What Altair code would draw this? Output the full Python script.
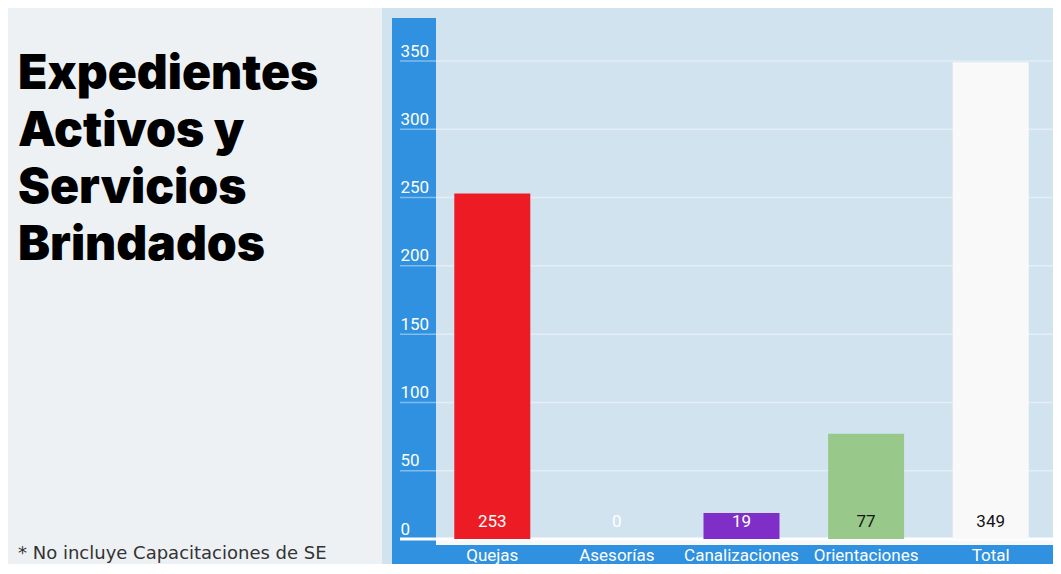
import altair as alt
import pandas as pd

# ---- data ----
categories = ["Quejas", "Asesorías", "Canalizaciones", "Orientaciones", "Total"]
values = [253, 0, 19, 77, 349]
y_ticks = [0, 50, 100, 150, 200, 250, 300, 350]
title_lines = ["Expedientes", "Activos y", "Servicios", "Brindados"]
footnote = "* No incluye Capacitaciones de SE"

# ---- styles ----
bar_colors = ["#ed1b24", "#b0b0b0", "#7f2fc8", "#98c98b", "#f9f9f9"]
dark_label_cats = ["Orientaciones", "Total"]
STRIP = "#2f91e0"
PANEL = "#d2e3f0"
BG = "#eef1f4"
W, H = 623, 478

df = pd.DataFrame({"cat": categories, "value": values})
grid_df = pd.DataFrame({"tick": [t for t in y_ticks if t > 0]})
one = pd.DataFrame({"k": [0]})

x_scale = alt.Scale(domain=categories, paddingInner=0.39, paddingOuter=0.195)
y_scale = alt.Scale(domain=[0, 350], nice=False)
y_axis = alt.Axis(values=y_ticks, domain=False, ticks=False, tickSize=0, grid=False,
                  labelAlign="left", labelPadding=30, labelBaseline="alphabetic",
                  labelOffset=-5, labelColor="white", labelFont="Roboto",
                  labelFontSize=17, title=None, zindex=1)
x_axis = alt.Axis(domain=False, ticks=False, tickSize=0, grid=False, labelAngle=0,
                  labelBaseline="middle", labelPadding=16, labelColor="white",
                  labelFont="Roboto", labelFontSize=17,
                  title=None, zindex=1)

panel = alt.Chart(one).mark_rect(color=PANEL).encode(
    x=alt.value(-48), x2=alt.value(640), y=alt.value(-60), y2=alt.value(510))
vstrip = alt.Chart(one).mark_rect(color=STRIP).encode(
    x=alt.value(-38), x2=alt.value(6), y=alt.value(-43), y2=alt.value(503))
hstrip = alt.Chart(one).mark_rect(color=STRIP).encode(
    x=alt.value(-38), x2=alt.value(640), y=alt.value(484), y2=alt.value(503))
wband = alt.Chart(one).mark_rect(color="#f7f8f9").encode(
    x=alt.value(6), x2=alt.value(640), y=alt.value(478), y2=alt.value(484))

grid = alt.Chart(grid_df).mark_rule(color="white", opacity=0.4, strokeWidth=1.5).encode(
    x=alt.value(-30), x2=alt.value(640),
    y=alt.Y("tick:Q", scale=y_scale, axis=y_axis, title=None))
base_line = alt.Chart(one).mark_rule(color="white", strokeWidth=3).encode(
    x=alt.value(-30), x2=alt.value(640),
    y=alt.Y(datum=0, scale=y_scale, axis=y_axis, title=None))

bars = alt.Chart(df).mark_bar().encode(
    x=alt.X("cat:N", scale=x_scale, axis=x_axis, title=None),
    y=alt.Y("value:Q", scale=y_scale, axis=y_axis, title=None),
    color=alt.Color("cat:N", scale=alt.Scale(domain=categories, range=bar_colors), legend=None),
)

labels = alt.Chart(df).mark_text(font="Roboto", fontSize=17,
                                 baseline="middle", dy=-17).encode(
    x=alt.X("cat:N", scale=x_scale, axis=x_axis, title=None),
    y=alt.Y(datum=0, scale=y_scale, axis=y_axis, title=None),
    text=alt.Text("value:Q"),
    fill=alt.condition(alt.FieldOneOfPredicate(field="cat", oneOf=dark_label_cats),
                       alt.value("#151515"), alt.value("white")),
)

title = alt.Chart(one).mark_text(text=title_lines, align="left", baseline="alphabetic",
                                 font="Inter", fontWeight=900, fontSize=48,
                                 lineHeight=57, color="black").encode(
    x=alt.value(-412), y=alt.value(28))

note = alt.Chart(one).mark_text(text=footnote, align="left", baseline="alphabetic",
                                font="DejaVu Sans", fontSize=18, color="#333333").encode(
    x=alt.value(-412), y=alt.value(498))

chart = alt.layer(panel, vstrip, hstrip, wband, grid, base_line, bars, labels, title, note).properties(
    width=W, height=H,
    padding={"left": 422, "top": 53, "right": 0, "bottom": 25},
    autosize=alt.AutoSizeParams(type="none"),
    background=BG,
).configure_view(stroke=None)

chart.save("out.html", embed_options={"renderer": "svg", "actions": False})
